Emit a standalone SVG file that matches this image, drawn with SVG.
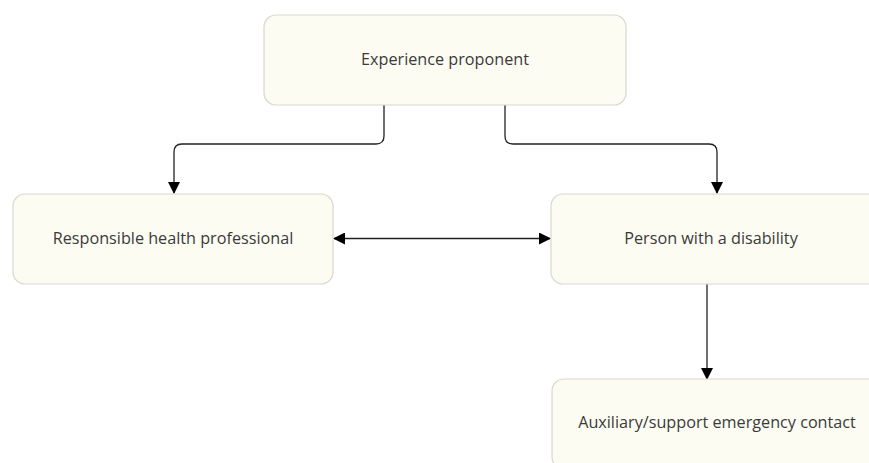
<svg xmlns="http://www.w3.org/2000/svg" width="869" height="463" viewBox="0 0 869 463">
<defs>
<style>
.node rect{fill:#fdfcf2;stroke:#d9d8cf;stroke-width:1.2}
.node text{font-family:"Open Sans",sans-serif;font-size:16.2px;fill:#3a3a3a;text-anchor:middle;dominant-baseline:central}
.conn path{fill:none;stroke:#222;stroke-width:1.3}
</style>
<marker id="ah" viewBox="0 0 12 12" markerWidth="12" markerHeight="12" refX="11" refY="6" orient="auto-start-reverse" markerUnits="userSpaceOnUse">
<path d="M0,0 L12,6 L0,12 Z" fill="#000"/>
</marker>
</defs>
<rect width="869" height="463" fill="#fff"/>
<g class="conn">
<path d="M384,105 V136 Q384,144 376,144 H182 Q174,144 174,152 V193" marker-end="url(#ah)"/>
<path d="M505,105 V136 Q505,144 513,144 H709 Q717,144 717,152 V193" marker-end="url(#ah)"/>
<path d="M334,238.5 H550" marker-start="url(#ah)" marker-end="url(#ah)"/>
<path d="M707,284 V379" marker-end="url(#ah)"/>
</g>
<g id="n1" class="node"><rect x="264" y="15" width="362" height="90" rx="12"/><text x="445" y="59">Experience proponent</text></g>
<g id="n2" class="node"><rect x="13" y="194" width="320" height="90" rx="12"/><text x="173" y="238">Responsible health professional</text></g>
<g id="n3" class="node"><rect x="551" y="194" width="330" height="90" rx="12"/><text x="711" y="238">Person with a disability</text></g>
<g id="n4" class="node"><rect x="552" y="379" width="330" height="90" rx="12"/><text x="717" y="422">Auxiliary/support emergency contact</text></g>
</svg>
